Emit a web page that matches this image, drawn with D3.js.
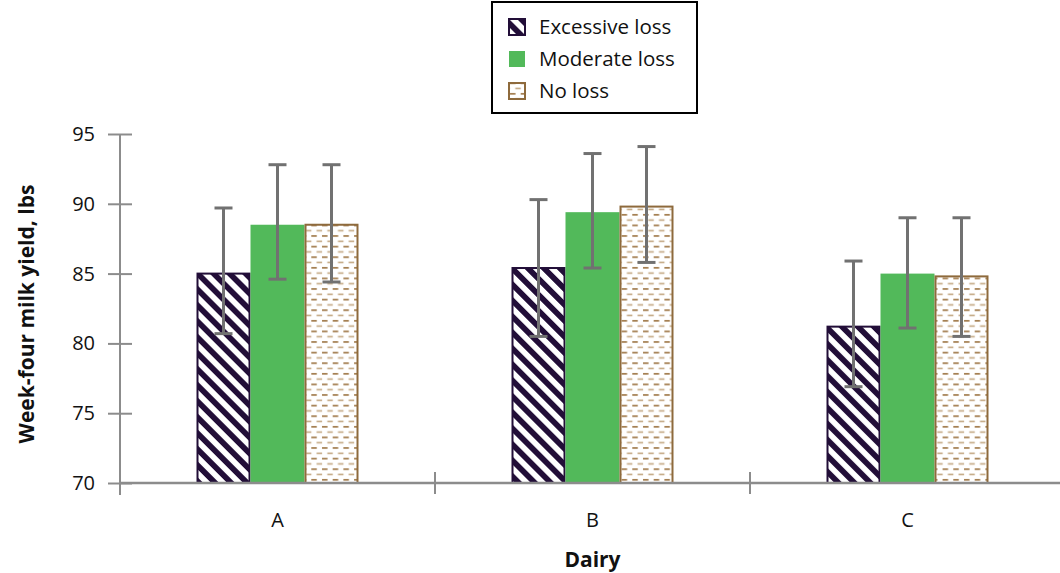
<!DOCTYPE html>
<html>
<head>
  <meta charset="utf-8">
  <script src="https://d3js.org/d3.v7.min.js"></script>
  <style>
    html, body { margin: 0; padding: 0; background: #fff; }
    svg text { font-family: "Open Sans", sans-serif; fill: #111; }
  </style>
</head>
<body>
<svg width="1060" height="573"></svg>
<script>
// data
var dairies = ["A", "B", "C"];
var seriesNames = ["Excessive loss", "Moderate loss", "No loss"];
var excessive = [85.0, 85.4, 81.2];
var moderate  = [88.5, 89.4, 85.0];
var noLoss    = [88.5, 89.8, 84.8];
var excessiveHi = [89.7, 90.3, 85.9], excessiveLo = [80.7, 80.5, 76.9];
var moderateHi  = [92.8, 93.6, 89.0], moderateLo  = [84.6, 85.4, 81.1];
var noLossHi    = [92.8, 94.1, 89.0], noLossLo    = [84.4, 85.8, 80.5];
var yTicks = [70, 75, 80, 85, 90, 95];

var values = [excessive, moderate, noLoss],
    his = [excessiveHi, moderateHi, noLossHi],
    los = [excessiveLo, moderateLo, noLossLo];

var svg = d3.select("svg");

var x0 = d3.scaleBand().domain(dairies).range([120, 1065]);
var groupW = 162;
var x1 = d3.scaleBand().domain(seriesNames)
    .range([(x0.bandwidth() - groupW) / 2, (x0.bandwidth() + groupW) / 2]);
var y = d3.scaleLinear().domain([70, 95]).range([483, 134]);

// patterns
var defs = svg.append("defs");
var stripe = defs.append("pattern")
    .attr("id", "stripe").attr("patternUnits", "userSpaceOnUse")
    .attr("width", 11.3).attr("height", 11.3)
    .attr("patternTransform", "rotate(45)");
stripe.append("rect").attr("width", 11.3).attr("height", 11.3).attr("fill", "#220e38");
stripe.append("rect").attr("y", 0).attr("width", 11.3).attr("height", 5.6).attr("fill", "#fff");

var dash = defs.append("pattern")
    .attr("id", "dash").attr("patternUnits", "userSpaceOnUse")
    .attr("width", 10.7).attr("height", 10.6);
dash.append("rect").attr("width", 10.7).attr("height", 10.6).attr("fill", "#fff");
dash.append("rect").attr("x", 1).attr("y", 2).attr("width", 5.5).attr("height", 1.6).attr("fill", "#9c7442");
dash.append("rect").attr("x", 6.3).attr("y", 7.3).attr("width", 5.5).attr("height", 1.6).attr("fill", "#c4a984");
dash.append("rect").attr("x", -4.4).attr("y", 7.3).attr("width", 5.5).attr("height", 1.6).attr("fill", "#c4a984");

var fills = ["url(#stripe)", "#52b95a", "url(#dash)"];
var strokes = ["#220e38", "none", "#8e6a3c"];

// bars
var rows = [];
dairies.forEach(function(d, i) {
  seriesNames.forEach(function(s, j) {
    rows.push({dairy: d, key: s, j: j, value: values[j][i], hi: his[j][i], lo: los[j][i]});
  });
});

svg.append("g").selectAll("rect")
  .data(rows)
  .enter().append("rect")
    .attr("x", function(d) { return x0(d.dairy) + x1(d.key) + (d.j == 1 ? 0 : 1); })
    .attr("y", function(d) { return y(d.value); })
    .attr("width", function(d) { return x1.bandwidth() - (d.j == 1 ? 0 : 2); })
    .attr("height", function(d) { return y(70) - y(d.value); })
    .attr("fill", function(d) { return fills[d.j]; })
    .attr("stroke", function(d) { return strokes[d.j]; })
    .attr("stroke-width", 2);

// error bars
var err = svg.append("g").attr("stroke", "#717171").attr("stroke-width", 3);
var cx = function(d) { return x0(d.dairy) + x1(d.key) + x1.bandwidth() / 2; };
err.selectAll("line.v").data(rows).enter().append("line")
    .attr("x1", cx).attr("x2", cx)
    .attr("y1", function(d) { return y(d.hi); })
    .attr("y2", function(d) { return y(d.lo); });
["hi", "lo"].forEach(function(k) {
  err.selectAll("line." + k).data(rows).enter().append("line")
      .attr("x1", function(d) { return cx(d) - 9; })
      .attr("x2", function(d) { return cx(d) + 9; })
      .attr("y1", function(d) { return y(d[k]); })
      .attr("y2", function(d) { return y(d[k]); });
});

// y axis
var yAxis = svg.append("g")
    .attr("transform", "translate(120,0)")
    .call(d3.axisLeft(y).tickValues(yTicks).tickSize(12).tickPadding(13));
yAxis.select(".domain").remove();
yAxis.selectAll(".tick line").attr("x1", -12).attr("x2", 12)
    .attr("stroke", "#8c8c8c").attr("stroke-width", 2);
yAxis.selectAll(".tick text").attr("font-size", 20).attr("fill", "#111");
yAxis.append("line").attr("y1", y(95)).attr("y2", 495)
    .attr("stroke", "#8c8c8c").attr("stroke-width", 2);

// x axis
var xAxis = svg.append("g")
    .attr("transform", "translate(0," + y(70) + ")")
    .call(d3.axisBottom(x0).tickSize(0).tickPadding(30));
xAxis.select(".domain").remove();
xAxis.selectAll(".tick text").attr("font-size", 20).attr("fill", "#111");
xAxis.append("line").attr("x1", 120).attr("x2", 1060)
    .attr("stroke", "#8c8c8c").attr("stroke-width", 2.5);
xAxis.selectAll("line.sep").data(dairies.slice(1)).enter().append("line")
    .attr("x1", function(d) { return x0(d); })
    .attr("x2", function(d) { return x0(d); })
    .attr("y1", -11).attr("y2", 11)
    .attr("stroke", "#8c8c8c").attr("stroke-width", 2);

// axis titles
svg.append("text")
    .attr("x", (x0.range()[0] + 1065) / 2).attr("y", 567)
    .attr("text-anchor", "middle").attr("font-size", 21).attr("font-weight", "bold")
    .text("Dairy");
svg.append("text")
    .attr("transform", "translate(34,314) rotate(-90)")
    .attr("text-anchor", "middle").attr("font-size", 21).attr("font-weight", "bold")
    .text("Week-four milk yield, lbs");

// legend
var legend = svg.append("g");
legend.append("rect").attr("x", 492).attr("y", 2).attr("width", 205).attr("height", 111)
    .attr("fill", "#fff").attr("stroke", "#000").attr("stroke-width", 2);
var item = legend.selectAll("g").data(seriesNames).enter().append("g")
    .attr("transform", function(d, i) { return "translate(509," + (27 + i * 32) + ")"; });
item.append("rect")
    .attr("x", 0).attr("y", -8).attr("width", 16).attr("height", 16)
    .attr("fill", function(d, i) { return fills[i]; })
    .attr("stroke", function(d, i) { return strokes[i]; })
    .attr("stroke-width", 2);
item.append("text")
    .attr("x", 30).attr("dy", "0.35em").attr("font-size", 20.5)
    .text(function(d) { return d; });
</script>
</body>
</html>
